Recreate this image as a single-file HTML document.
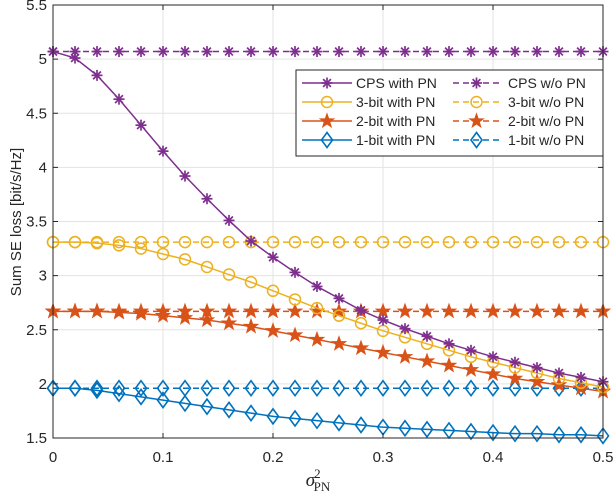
<!DOCTYPE html>
<html><head><meta charset="utf-8"><style>
body{margin:0;background:#fff;width:616px;height:494px;overflow:hidden}
text{font-family:"Liberation Sans",sans-serif;fill:#262626}
</style></head><body>
<svg id="chart" width="616" height="494" xmlns="http://www.w3.org/2000/svg">
<g id="grid"></g>
<g id="series"></g>
<g id="axes"></g>
<text transform="translate(21,222) rotate(-90)" text-anchor="middle" font-size="15">Sum SE loss [bit/s/Hz]</text>
<text x="318" y="486" text-anchor="middle" style="font-family:'Liberation Serif',serif" font-size="19"><tspan font-style="italic">σ</tspan><tspan font-size="13" dy="-8" dx="-1">2</tspan><tspan font-size="13" dy="13" dx="-7">PN</tspan></text>
<g id="legend"></g>
</svg>
<script>
const xValues=[0,0.02,0.04,0.06,0.08,0.1,0.12,0.14,0.16,0.18,0.2,0.22,0.24,0.26,0.28,0.3,0.32,0.34,0.36,0.38,0.4,0.42,0.44,0.46,0.48,0.5];
const cpsWith=[5.07,5.01,4.85,4.63,4.39,4.15,3.92,3.71,3.51,3.32,3.17,3.03,2.90,2.79,2.68,2.59,2.51,2.44,2.37,2.31,2.25,2.20,2.15,2.10,2.06,2.02];
const cpsWithout=5.07;
const bit3With=[3.31,3.31,3.30,3.28,3.25,3.20,3.15,3.08,3.01,2.94,2.86,2.78,2.70,2.63,2.56,2.49,2.43,2.37,2.31,2.25,2.20,2.15,2.10,2.05,2.01,1.97];
const bit3Without=3.31;
const bit2With=[2.67,2.67,2.67,2.66,2.65,2.63,2.61,2.59,2.56,2.53,2.49,2.45,2.41,2.37,2.33,2.29,2.25,2.21,2.17,2.13,2.09,2.05,2.02,1.99,1.96,1.93];
const bit2Without=2.67;
const bit1With=[1.96,1.96,1.94,1.91,1.88,1.85,1.82,1.79,1.76,1.73,1.70,1.68,1.66,1.64,1.62,1.60,1.59,1.58,1.57,1.56,1.55,1.54,1.54,1.53,1.53,1.52];
const bit1Without=1.96;
const xTicks=[0,0.1,0.2,0.3,0.4,0.5];
const xTickLabels=["0","0.1","0.2","0.3","0.4","0.5"];
const yTicks=[1.5,2,2.5,3,3.5,4,4.5,5,5.5];
const yTickLabels=["1.5","2","2.5","3","3.5","4","4.5","5","5.5"];
const legendLabels=["CPS with PN","CPS w/o PN","3-bit with PN","3-bit w/o PN","2-bit with PN","2-bit w/o PN","1-bit with PN","1-bit w/o PN"];

const L=53,R=603,T=5,B=438;
const xs=v=>L+(v-0)/(0.5)*(R-L);
const ys=v=>B-(v-1.5)/4*(B-T);
const NS="http://www.w3.org/2000/svg";
function mk(tag,attrs,parent){const e=document.createElementNS(NS,tag);for(const k in attrs)e.setAttribute(k,attrs[k]);parent.appendChild(e);return e;}
const grid=document.getElementById('grid'),axes=document.getElementById('axes'),ser=document.getElementById('series'),leg=document.getElementById('legend');
xTicks.forEach((t,i)=>{const x=xs(t);
 const g=mk('line',{x1:x,x2:x,y1:T,y2:B,stroke:'#e3e3e3','stroke-width':1},grid);
 
 mk('line',{x1:x,x2:x,y1:B,y2:B-5,stroke:'#262626'},axes);mk('line',{x1:x,x2:x,y1:T,y2:T+5,stroke:'#262626'},axes);
 const tx=mk('text',{x:x,y:B+24,'text-anchor':'middle','font-size':15},axes);tx.textContent=xTickLabels[i];
 });
yTicks.forEach((t,i)=>{const y=ys(t);
 const g=mk('line',{x1:L,x2:R,y1:y,y2:y,stroke:'#e3e3e3','stroke-width':1},grid);
 
 mk('line',{x1:L,x2:L+5,y1:y,y2:y,stroke:'#262626'},axes);mk('line',{x1:R,x2:R-5,y1:y,y2:y,stroke:'#262626'},axes);
 const tx=mk('text',{x:L-6,y:y+5,'text-anchor':'end','font-size':15},axes);tx.textContent=yTickLabels[i];
 });
const box=mk('rect',{x:L,y:T,width:R-L,height:B-T,fill:'none',stroke:'#262626','stroke-width':1},axes);


function marker(type,x,y,c,p){
 if(type==='ast'){const g=mk('g',{stroke:c,'stroke-width':1.7},p);for(let a=0;a<4;a++){const an=a*Math.PI/4;mk('line',{x1:x-5.5*Math.cos(an),y1:y-5.5*Math.sin(an),x2:x+5.5*Math.cos(an),y2:y+5.5*Math.sin(an)},g);}return g;}
 if(type==='circ')return mk('circle',{cx:x,cy:y,r:5.5,fill:'none',stroke:c,'stroke-width':1.5},p);
 if(type==='star'){let pts=[];for(let k=0;k<10;k++){const r=k%2?3:7.5;const an=-Math.PI/2+k*Math.PI/5;pts.push((x+r*Math.cos(an)).toFixed(1)+','+(y+r*Math.sin(an)).toFixed(1));}return mk('polygon',{points:pts.join(' '),fill:c,stroke:c,'stroke-width':0.8},p);}
 return mk('polygon',{points:`${x},${y-7.5} ${x+5.5},${y} ${x},${y+7.5} ${x-5.5},${y}`,fill:'none',stroke:c,'stroke-width':1.6},p);
}
const defs=[
 {name:'cps',c:'#7E2F8E',m:'ast',w:cpsWith,wo:cpsWithout},
 {name:'3bit',c:'#EDB120',m:'circ',w:bit3With,wo:bit3Without},
 {name:'2bit',c:'#D95319',m:'star',w:bit2With,wo:bit2Without},
 {name:'1bit',c:'#0072BD',m:'dia',w:bit1With,wo:bit1Without}];
defs.slice().reverse().forEach(d=>{
 const g1=mk('g',{},ser);
 mk('line',{x1:xs(xValues[0]),x2:xs(xValues[xValues.length-1]),y1:ys(d.wo),y2:ys(d.wo),stroke:d.c,'stroke-width':1.5,'stroke-dasharray':'6,4'},g1);
 xValues.forEach(v=>{const m=marker(d.m,xs(v),ys(d.wo),d.c,g1);});
 const g2=mk('g',{},ser);
 mk('polyline',{points:xValues.map((v,i)=>xs(v)+','+ys(d.w[i])).join(' '),fill:'none',stroke:d.c,'stroke-width':1.5},g2);
 xValues.forEach((v,i)=>{const m=marker(d.m,xs(v),ys(d.w[i]),d.c,g2);});
});
const lb=mk('rect',{x:296,y:70,width:307,height:86,fill:'#fff',stroke:'#262626','stroke-width':1},leg);

defs.forEach((d,r)=>{const y=83+r*19;
 [0,1].forEach(col=>{const g=mk('g',{},leg);
  const x1=col?453:302,x2=col?500:352;
  mk('line',{x1:x1,x2:x2,y1:y,y2:y,stroke:d.c,'stroke-width':1.5,'stroke-dasharray':col?'6,4':'none'},g);
  marker(d.m,(x1+x2)/2,y,d.c,g);
  const t=mk('text',{x:col?508:356,y:y+5,'font-size':14},g);t.textContent=legendLabels[r*2+col];});
});
</script>
</body></html>
